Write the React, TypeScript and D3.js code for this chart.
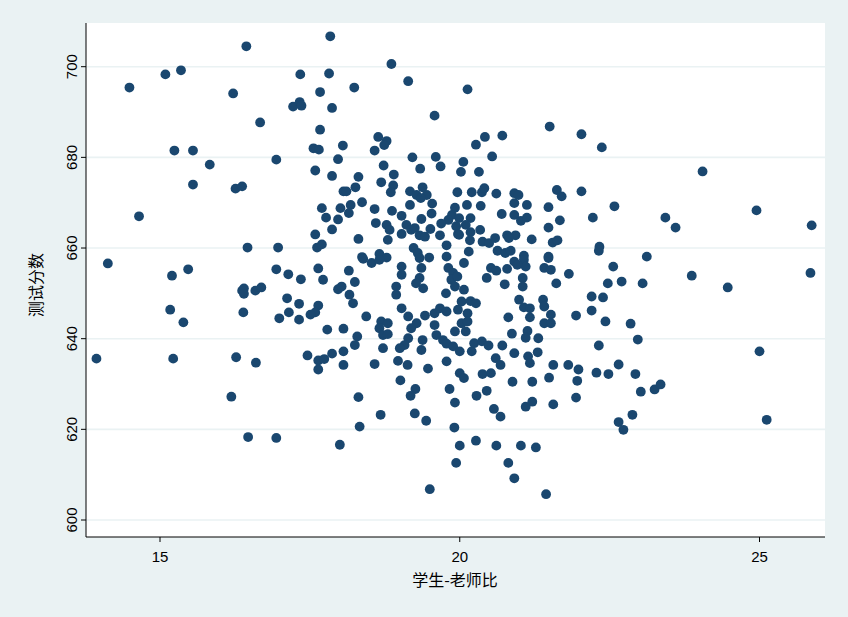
import React from "react";
import * as d3 from "d3";

// student-teacher ratio, test score
const strVals: number[] = [];
const points: [number, number][] = [
  [17.84,706.7],[16.44,704.5],[15.09,698.3],[15.35,699.2],[17.34,698.3],[17.82,698.5],[14.49,695.4],[16.22,694.1],[17.67,694.4],[17.22,691.2],[17.33,692.2],[17.36,691.4],[17.87,690.9],[16.67,687.7],[17.67,686.1],[17.56,682.0],[17.65,681.7],[18.05,682.6],[15.24,681.5],[15.55,681.5],[15.83,678.4],[16.94,679.5],[17.97,679.6],[17.59,677.1],[17.87,675.9],[15.55,674.0],[16.26,673.1],[16.37,673.6],[18.06,672.5],[14.65,667.0],[17.70,668.8],[18.01,668.8],[17.77,666.7],[17.97,666.3],[17.87,664.1],[17.59,663.0],[17.62,660.1],[17.70,660.8],[16.46,660.1],[16.97,660.1],[14.13,656.6],[15.20,653.9],[15.47,655.3],[16.94,655.3],[17.14,654.2],[17.35,653.1],[17.64,655.5],[17.72,653.0],
  [17.97,650.9],[18.03,651.5],[16.37,650.6],[16.40,651.1],[16.40,649.9],[16.59,650.6],[16.69,651.3],[17.12,648.9],[17.32,647.7],[17.64,647.3],[17.59,645.8],[17.51,645.3],[15.17,646.4],[15.39,643.6],[16.39,645.8],[16.99,644.5],[17.15,645.8],[17.32,644.2],[17.79,642.0],[18.06,642.2],[13.94,635.6],[15.22,635.6],[16.27,635.9],[16.60,634.7],[17.46,636.3],[17.64,635.2],[17.74,635.5],[17.87,636.7],[17.64,633.2],[18.06,637.2],[18.06,634.2],[16.19,627.2],[16.47,618.3],[16.94,618.1],[18.00,616.6],
  [22.03,685.1],[22.37,682.2],[24.05,676.9],[22.03,672.5],[22.58,669.2],[22.22,666.7],[23.43,666.7],[23.60,664.5],[24.95,668.3],[25.87,665.0],[22.33,660.3],[22.32,659.4],[23.12,658.1],[22.56,655.9],[23.87,653.9],[25.85,654.5],
  [22.47,652.2],[22.70,652.6],[23.05,652.2],[24.47,651.3],[22.20,649.3],[22.39,649.1],[22.20,646.2],[21.94,645.1],[22.43,643.8],[22.85,643.3],[22.97,639.8],[22.32,638.5],[25.00,637.2],[21.98,633.2],[21.96,630.7],[21.94,627.0],[22.28,632.5],[22.48,632.2],[22.65,634.3],[22.93,632.2],[23.02,628.3],[23.25,628.8],[23.35,629.9],[22.88,623.2],[22.65,621.6],[22.73,619.9],[25.12,622.1],
  [18.86,700.6],[19.14,696.8],[18.24,695.4],[19.58,689.2],[20.13,695.0],[18.64,684.5],[18.78,683.6],[18.74,682.7],[21.50,686.8],[20.27,682.8],[20.42,684.5],[20.71,684.8],
  [18.58,681.5],[19.21,680.0],[19.60,680.1],[19.68,678.0],[19.34,677.5],[18.73,678.2],[20.02,676.8],[18.31,675.7],[18.90,676.2],[18.26,673.4],[18.11,672.5],[18.69,674.5],[18.89,673.8],[18.85,672.3],[19.17,672.5],[19.38,673.4],[19.28,671.7],[19.45,671.7],[19.17,669.5],[19.35,671.0],[19.54,669.8],[19.96,672.3],[18.18,669.5],[18.15,667.7],[18.37,670.1],[18.58,668.6],[18.87,668.2],[19.03,667.1],[19.36,666.4],[19.53,667.6],[19.92,668.9],[19.87,667.3],[19.81,666.2],[18.60,665.5],[18.78,665.1],[18.83,664.0],[18.80,661.8],[19.11,665.1],[19.19,664.0],[19.25,664.4],[19.03,663.1],[19.33,662.8],[19.42,662.5],[19.51,664.2],[19.69,665.4],[19.67,662.8],[19.78,660.6],[19.94,664.8],[19.97,663.1],[18.31,662.0],[19.23,660.0],[19.30,658.9],[18.37,658.0],[18.66,658.7],[18.78,657.9],[19.49,657.9],[19.78,658.1],
  [20.06,679.0],[20.54,680.2],[20.32,676.8],[20.20,672.3],[20.37,672.3],[20.41,673.2],[20.61,672.0],[20.91,672.1],[20.98,671.7],[20.91,669.9],[21.62,672.8],[21.70,671.4],[20.12,669.5],[20.35,669.3],[21.12,669.5],[21.48,669.0],[20.70,667.5],[20.91,667.3],[21.02,666.0],[21.12,666.7],[21.67,666.1],[19.99,666.6],[20.18,666.6],[20.10,665.1],[21.48,664.5],[20.34,664.0],[20.18,663.5],[19.99,662.9],[20.17,661.7],[20.38,661.4],[20.49,661.1],[20.59,662.2],[20.79,662.8],[20.93,662.8],[20.82,662.2],[21.20,661.9],[21.55,661.2],[21.63,661.7],[20.15,659.2],[20.63,659.4],[20.76,658.9],[20.85,659.4],[21.07,658.3],[21.48,658.1],
  [18.39,657.6],[18.53,656.7],[18.66,657.4],[19.03,655.9],[19.03,654.1],[19.33,657.8],[19.36,655.6],[19.33,653.4],[19.27,652.2],[19.39,651.1],[19.81,655.6],[19.89,654.5],[19.86,653.0],[19.92,651.5],[19.77,650.0],[18.15,655.0],[18.25,652.5],[18.16,649.7],[18.22,647.8],[18.94,651.5],[18.94,649.7],[19.03,646.7],[19.14,644.9],[18.44,644.9],[18.69,643.8],[18.80,643.4],[18.66,642.3],[18.72,640.8],[18.80,641.0],[19.28,643.4],[19.19,642.3],[19.42,645.1],[19.58,645.6],[19.67,646.7],[19.78,646.0],[19.97,646.4],[20.03,648.2],[19.58,643.0],[19.61,640.8],[19.72,639.7],[19.78,638.9],[19.92,641.6],[20.03,643.4],[18.29,640.5],[18.25,638.6],[18.72,637.9],[19.14,640.1],[19.08,638.6],[19.00,637.9],[19.38,639.7],[19.36,637.5],[19.89,638.3],[20.00,637.2],[18.58,634.4],[18.97,635.1],[19.13,634.2],[19.47,633.4],[19.78,635.0],
  [20.07,656.7],[19.96,653.7],[20.52,655.6],[20.61,655.0],[20.79,655.4],[20.91,657.0],[21.07,657.4],[21.10,655.9],[20.96,656.3],[21.48,657.8],[21.41,655.6],[21.52,655.2],[21.82,654.3],[20.45,653.4],[20.75,652.0],[21.05,653.4],[21.05,651.5],[21.61,652.2],[20.07,650.8],[20.18,648.3],[20.27,647.8],[20.13,645.6],[20.13,643.8],[20.10,641.6],[20.99,648.6],[21.07,646.9],[21.17,646.7],[21.39,648.6],[21.41,647.1],[20.81,644.7],[21.17,644.7],[21.52,645.3],[21.41,643.4],[21.52,643.4],[20.87,641.1],[21.13,641.7],[21.10,640.2],[21.31,640.1],[20.20,637.2],[20.24,639.0],[20.37,639.4],[20.48,638.5],[20.71,638.5],[20.91,636.8],[20.60,635.7],[20.68,634.2],[21.14,636.1],[21.17,634.6],[21.30,637.0],[21.56,634.2],[21.81,634.2],
  [20.00,632.4],[20.07,631.3],[19.01,630.8],[19.26,628.9],[19.18,627.4],[19.83,628.9],[18.31,627.1],[19.92,625.9],[18.68,623.2],[19.25,623.5],[19.44,621.9],[18.33,620.6],[19.91,620.4],[20.00,616.4],[19.94,612.6],[19.50,606.8],
  [20.38,632.2],[20.52,632.4],[21.49,631.4],[20.88,630.5],[21.21,630.5],[20.28,627.4],[20.45,628.5],[20.57,624.5],[20.68,622.8],[21.10,625.0],[21.21,626.1],[21.56,625.5],[20.27,617.5],[20.61,616.4],[21.02,616.4],[21.27,616.0],[20.81,612.6],[20.91,609.2],[21.44,605.7],
];
const xTicks = [15, 20, 25];
const yTicks = [600, 620, 640, 660, 680, 700];
const xTitle = "学生-老师比";
const yTitle = "测试分数";

const W = 848, H = 617;
const left = 86, right = 825, top = 23, bottom = 537;
const BG = "#EAF2F3";
const MARK = "#1A476F";
const FONT = "'Liberation Sans', Arial, sans-serif";

export default function App() {
  const x = d3.scaleLinear().domain([15, 25]).range([160, 759.5]);
  const y = d3.scaleLinear().domain([600, 700]).range([520, 66.7]);
  return (
    <svg width={W} height={H} style={{ position: "absolute", left: 0, top: 0 }} fontFamily={FONT}>
      <rect x={0} y={0} width={W} height={H} fill={BG} />
      <rect x={left} y={top} width={right - left} height={bottom - top} fill="#ffffff" />
      {yTicks.map((t) => (
        <line key={"g" + t} x1={left} x2={right} y1={y(t)} y2={y(t)} stroke={BG} strokeWidth={1.6} />
      ))}
      {points.map((p, i) => (
        <circle key={i} cx={x(p[0])} cy={y(p[1])} r={4.9} fill={MARK} />
      ))}
      <line x1={left} x2={left} y1={top} y2={bottom} stroke="#000" strokeWidth={1} />
      <line x1={left} x2={right} y1={bottom} y2={bottom} stroke="#000" strokeWidth={1} />
      {yTicks.map((t) => (
        <g key={"y" + t}>
          <line x1={left - 5} x2={left} y1={y(t)} y2={y(t)} stroke="#000" />
          <text transform={`translate(${77},${y(t)}) rotate(-90)`} textAnchor="middle" fontSize={15} fill="#000">{t}</text>
        </g>
      ))}
      {xTicks.map((t) => (
        <g key={"x" + t}>
          <line x1={x(t)} x2={x(t)} y1={bottom} y2={bottom + 5} stroke="#000" />
          <text x={x(t)} y={562} textAnchor="middle" fontSize={15} fill="#000">{t}</text>
        </g>
      ))}
      <text x={455} y={586} textAnchor="middle" fontSize={16} fill="#000" fontFamily="'Noto Sans CJK SC', sans-serif">{xTitle}</text>
      <text transform={`translate(42,285) rotate(-90)`} textAnchor="middle" fontSize={16} fill="#000" fontFamily="'Noto Sans CJK SC', sans-serif">{yTitle}</text>
    </svg>
  );
}
